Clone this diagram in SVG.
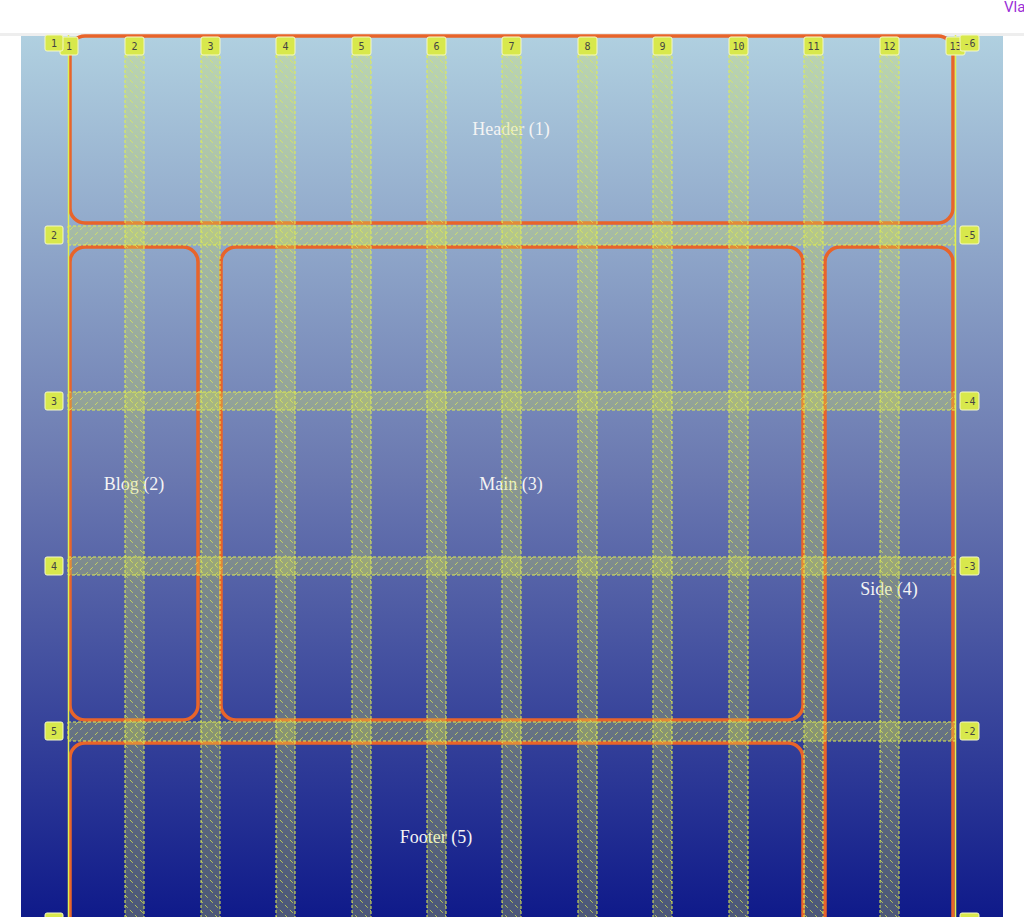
<svg xmlns="http://www.w3.org/2000/svg" width="1024" height="917" viewBox="0 0 1024 917">
<defs>
<linearGradient id="bg" x1="0" y1="0" x2="0" y2="1"><stop offset="0" stop-color="#b0d0e0"/><stop offset="0.5" stop-color="#6a78b0"/><stop offset="1" stop-color="#0f1a8a"/></linearGradient>
<pattern id="hv" width="10" height="10" patternUnits="userSpaceOnUse"><path d="M0 0L10 10" stroke="#e0ee50" stroke-width="1" stroke-dasharray="4 3" opacity="0.7"/></pattern>
<pattern id="hh" width="10" height="10" patternUnits="userSpaceOnUse"><path d="M0 10L10 0" stroke="#e0ee50" stroke-width="1" stroke-dasharray="4 3" opacity="0.7"/></pattern>
<style>
.area{fill:none;stroke:#e8642a;stroke-width:3.5}
.lbl{font-family:"Liberation Serif",serif;font-size:18px;fill:#f4f4f4;text-anchor:middle}
.gv{fill:rgba(215,230,80,0.3)}
.gl{fill:none;stroke:#e0ee50;stroke-width:1;stroke-dasharray:3 2}
.tag rect{fill:#d8e84c;stroke:#f4f8c8;stroke-width:1}
.tag text{font-family:"DejaVu Sans Mono",monospace;font-size:10px;fill:#444;text-anchor:middle}
</style>
</defs>
<rect width="1024" height="917" fill="#fff"/>
<rect x="21" y="35" width="982" height="882" fill="url(#bg)"/>
<rect x="0" y="33" width="1024" height="3" fill="#eee"/>
<text x="1004" y="12" font-family="Roboto,sans-serif" font-size="15" fill="#9b30d8">Vla</text>
<g id="areas">
<g id="header"><rect class="area" x="70" y="36" width="883" height="187" rx="15"/><text class="lbl" x="511" y="135">Header (1)</text></g>
<g id="blog"><rect class="area" x="70" y="247" width="128" height="473" rx="15"/><text class="lbl" x="134" y="490">Blog (2)</text></g>
<g id="main"><rect class="area" x="221" y="247" width="582" height="473" rx="15"/><text class="lbl" x="511" y="490">Main (3)</text></g>
<g id="side"><rect class="area" x="825" y="247" width="128" height="700" rx="15"/><text class="lbl" x="889" y="595">Side (4)</text></g>
<g id="footer"><rect class="area" x="70" y="743" width="733" height="204" rx="15"/><text class="lbl" x="436" y="843">Footer (5)</text></g>
</g>
<g id="connectors">
<line x1="68.5" y1="35" x2="68.5" y2="917" stroke="#e0ee50" stroke-width="1.5"/>
<line x1="955.5" y1="35" x2="955.5" y2="917" stroke="#e0ee50" stroke-width="1.5"/>
<g id="rowgaps">
<rect class="gv" x="68" y="226" width="887" height="19"/><rect fill="url(#hh)" x="68" y="226" width="887" height="19"/><rect class="gl" x="68" y="226" width="887" height="19"/>
<rect class="gv" x="68" y="392" width="887" height="18"/><rect fill="url(#hh)" x="68" y="392" width="887" height="18"/><rect class="gl" x="68" y="392" width="887" height="18"/>
<rect class="gv" x="68" y="557" width="887" height="18"/><rect fill="url(#hh)" x="68" y="557" width="887" height="18"/><rect class="gl" x="68" y="557" width="887" height="18"/>
<rect class="gv" x="68" y="722" width="887" height="19"/><rect fill="url(#hh)" x="68" y="722" width="887" height="19"/><rect class="gl" x="68" y="722" width="887" height="19"/>
</g>
<g id="colgaps">
<rect class="gv" x="125" y="55" width="19" height="870"/><rect fill="url(#hv)" x="125" y="55" width="19" height="870"/><rect class="gl" x="125" y="55" width="19" height="870"/>
<rect class="gv" x="201" y="55" width="19" height="870"/><rect fill="url(#hv)" x="201" y="55" width="19" height="870"/><rect class="gl" x="201" y="55" width="19" height="870"/>
<rect class="gv" x="276" y="55" width="19" height="870"/><rect fill="url(#hv)" x="276" y="55" width="19" height="870"/><rect class="gl" x="276" y="55" width="19" height="870"/>
<rect class="gv" x="352" y="55" width="19" height="870"/><rect fill="url(#hv)" x="352" y="55" width="19" height="870"/><rect class="gl" x="352" y="55" width="19" height="870"/>
<rect class="gv" x="427" y="55" width="19" height="870"/><rect fill="url(#hv)" x="427" y="55" width="19" height="870"/><rect class="gl" x="427" y="55" width="19" height="870"/>
<rect class="gv" x="502" y="55" width="19" height="870"/><rect fill="url(#hv)" x="502" y="55" width="19" height="870"/><rect class="gl" x="502" y="55" width="19" height="870"/>
<rect class="gv" x="578" y="55" width="19" height="870"/><rect fill="url(#hv)" x="578" y="55" width="19" height="870"/><rect class="gl" x="578" y="55" width="19" height="870"/>
<rect class="gv" x="653" y="55" width="19" height="870"/><rect fill="url(#hv)" x="653" y="55" width="19" height="870"/><rect class="gl" x="653" y="55" width="19" height="870"/>
<rect class="gv" x="729" y="55" width="19" height="870"/><rect fill="url(#hv)" x="729" y="55" width="19" height="870"/><rect class="gl" x="729" y="55" width="19" height="870"/>
<rect class="gv" x="804" y="55" width="19" height="870"/><rect fill="url(#hv)" x="804" y="55" width="19" height="870"/><rect class="gl" x="804" y="55" width="19" height="870"/>
<rect class="gv" x="880" y="55" width="19" height="870"/><rect fill="url(#hv)" x="880" y="55" width="19" height="870"/><rect class="gl" x="880" y="55" width="19" height="870"/>
</g>
</g>
<g id="tags">
<g class="tag"><rect x="60" y="37" width="18" height="18" rx="2"/><text x="69" y="50">1</text></g>
<g class="tag"><rect x="45" y="35" width="18" height="16" rx="2"/><text x="54" y="47">1</text></g>
<g class="tag"><rect x="125" y="37" width="19" height="18" rx="2"/><text x="134.5" y="50">2</text></g>
<g class="tag"><rect x="201" y="37" width="19" height="18" rx="2"/><text x="210.5" y="50">3</text></g>
<g class="tag"><rect x="276" y="37" width="19" height="18" rx="2"/><text x="285.5" y="50">4</text></g>
<g class="tag"><rect x="352" y="37" width="19" height="18" rx="2"/><text x="361.5" y="50">5</text></g>
<g class="tag"><rect x="427" y="37" width="19" height="18" rx="2"/><text x="436.5" y="50">6</text></g>
<g class="tag"><rect x="502" y="37" width="19" height="18" rx="2"/><text x="511.5" y="50">7</text></g>
<g class="tag"><rect x="578" y="37" width="19" height="18" rx="2"/><text x="587.5" y="50">8</text></g>
<g class="tag"><rect x="653" y="37" width="19" height="18" rx="2"/><text x="662.5" y="50">9</text></g>
<g class="tag"><rect x="729" y="37" width="19" height="18" rx="2"/><text x="738.5" y="50">10</text></g>
<g class="tag"><rect x="804" y="37" width="19" height="18" rx="2"/><text x="813.5" y="50">11</text></g>
<g class="tag"><rect x="880" y="37" width="19" height="18" rx="2"/><text x="889.5" y="50">12</text></g>
<g class="tag"><rect x="946" y="37" width="19" height="18" rx="2"/><text x="955.5" y="50">13</text></g>
<g class="tag"><rect x="960" y="35" width="19" height="16" rx="2"/><text x="969.5" y="47">-6</text></g>
<g class="tag"><rect x="45" y="226" width="18" height="18" rx="2"/><text x="54" y="239">2</text></g>
<g class="tag"><rect x="45" y="392" width="18" height="18" rx="2"/><text x="54" y="405">3</text></g>
<g class="tag"><rect x="45" y="557" width="18" height="18" rx="2"/><text x="54" y="570">4</text></g>
<g class="tag"><rect x="45" y="722" width="18" height="18" rx="2"/><text x="54" y="735">5</text></g>
<g class="tag"><rect x="45" y="913" width="18" height="18" rx="2"/></g>
<g class="tag"><rect x="960" y="226" width="19" height="18" rx="2"/><text x="969.5" y="239">-5</text></g>
<g class="tag"><rect x="960" y="392" width="19" height="18" rx="2"/><text x="969.5" y="405">-4</text></g>
<g class="tag"><rect x="960" y="557" width="19" height="18" rx="2"/><text x="969.5" y="570">-3</text></g>
<g class="tag"><rect x="960" y="722" width="19" height="18" rx="2"/><text x="969.5" y="735">-2</text></g>
<g class="tag"><rect x="960" y="913" width="19" height="18" rx="2"/></g>
</g>
</svg>
